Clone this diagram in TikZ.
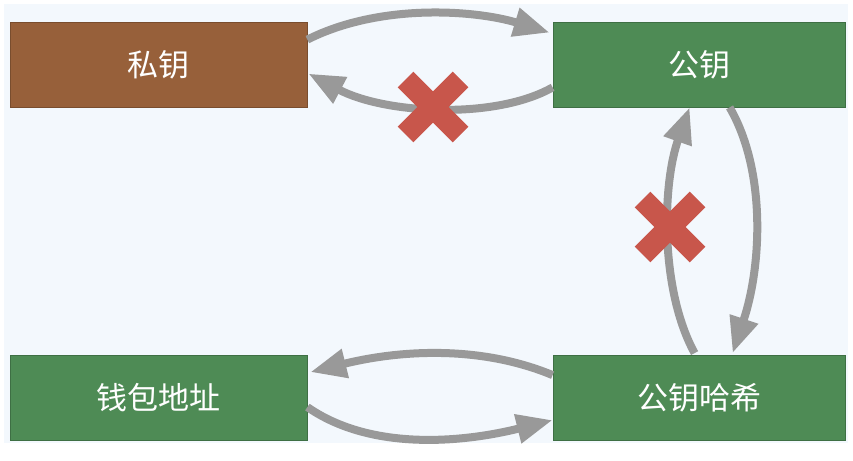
\documentclass[tikz,border=0pt]{standalone}
\usepackage{fontspec}
\newfontfamily\cjk{Noto Sans CJK SC}
\usetikzlibrary{arrows.meta,calc}
\definecolor{bgblue}{HTML}{F3F8FD}
\definecolor{boxbrown}{HTML}{97603A}
\definecolor{boxgreen}{HTML}{4E8B55}
\definecolor{arrgray}{HTML}{999999}
\definecolor{crossred}{HTML}{C8564B}
\tikzset{
  keybox/.style={rectangle, minimum width=297pt, minimum height=85pt, inner sep=0pt,
    text=white, font=\cjk\fontsize{31}{36}\selectfont},
  brownbox/.style={keybox, fill=boxbrown, draw=boxbrown!80!black, line width=0.8pt},
  greenbox/.style={keybox, fill=boxgreen, draw=boxgreen!80!black, line width=0.8pt},
  flow/.style={draw=arrgray, line width=8pt, -{Triangle[length=36pt,width=28pt]}},
  crossbar/.style={draw=crossred, line width=22pt}
}
\begin{document}
\begin{tikzpicture}[x=1pt,y=-1pt]
\useasboundingbox (0,0) rectangle (853,460);
\fill[white] (0,0) rectangle (853,460);
\fill[bgblue] (4,4) rectangle (848,443);

\node[brownbox] (sk) at (158.5,64.5) {私钥};
\node[greenbox, minimum width=292pt] (pk) at (699,64.5) {公钥};
\node[greenbox] (addr) at (158.5,398) {钱包地址};
\node[greenbox, minimum width=292pt] (pkh) at (699,398) {公钥哈希};

% top pair
\draw[flow] ($(sk.north east)+(0,18)$) .. controls (380,3) and (475,10) .. ($(pk.north west)+(-3,11)$);
\draw[flow] ($(pk.south west)+(0,-20)$) .. controls (495,120) and (385,114) .. ($(sk.north east)+(1,52)$);

% vertical pair
\draw[flow] ($(pkh.north west)+(142,-2)$) .. controls (660,290) and (662,185) .. ($(pk.south west)+(137,0)$);
\draw[flow] ($(pk.south west)+(177,0)$) .. controls (766,170) and (762,265) .. ($(pkh.north west)+(180,-2)$);

% bottom pair
\draw[flow] ($(pkh.north west)+(0,20)$) .. controls (480,345) and (400,350) .. ($(addr.north east)+(3,17)$);
\draw[flow] ($(addr.north east)+(0,52)$) .. controls (372,452) and (465,442) .. ($(pkh.north west)+(0,65)$);

% crosses
\coordinate (xa) at (433,107);
\coordinate (xb) at (670,227);
\foreach \c in {xa,xb}{
  \draw[crossbar] ($(\c)+(-27.5,-27.5)$) -- ($(\c)+(27.5,27.5)$);
  \draw[crossbar] ($(\c)+(-27.5,27.5)$) -- ($(\c)+(27.5,-27.5)$);
}
\end{tikzpicture}
\end{document}
